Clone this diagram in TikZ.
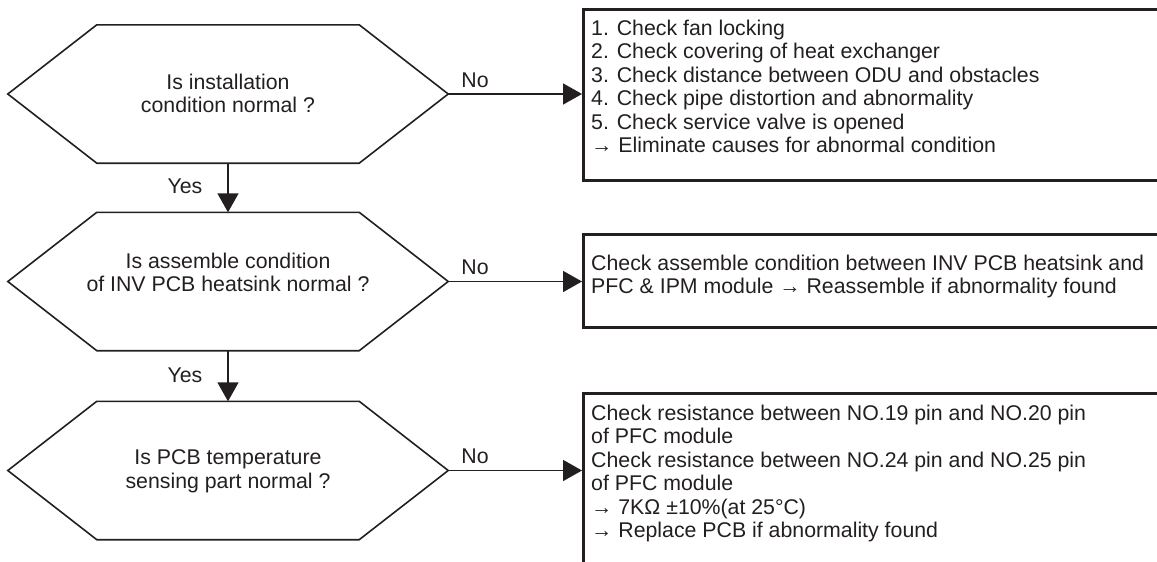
\documentclass[tikz,border=0pt]{standalone}
\usepackage{fontspec}
\setmainfont{Liberation Sans}
\usetikzlibrary{arrows.meta,calc}
\definecolor{ink}{HTML}{231F20}
\begin{document}
\begin{tikzpicture}[x=1pt,y=-1pt,
  hexa/.style={draw=none, minimum width=440pt, minimum height=138pt, inner sep=0pt},
  hexline/.style={draw=ink, line width=1.6pt, line join=miter},
  boxnode/.style={draw=ink, line width=2.6pt, anchor=north west, minimum width=620pt, inner sep=0pt},
  txt/.style={inner sep=0pt, text=ink, font=\fontsize{21.3}{23.5}\selectfont},
  boxtxt/.style={txt, align=left, anchor=north west},
  qtxt/.style={txt, align=center, anchor=north},
  arr/.style={draw=ink, line width=1.6pt, -{Triangle[length=19pt,width=21pt]}},
]
\useasboundingbox (0,0) rectangle (1157,562);
\clip (0,0) rectangle (1157,562);

% decision hexagons
\node[hexa] (h1) at (228,94) {};
\node[hexa] (h2) at (228,281.5) {};
\node[hexa] (h3) at (228,470.5) {};
\foreach \h in {h1,h2,h3}{
  \draw[hexline] (\h.west) -- ([xshift=89pt]\h.north west) -- ([xshift=-89pt]\h.north east)
    -- (\h.east) -- ([xshift=-89pt]\h.south east) -- ([xshift=89pt]\h.south west) -- cycle;
}
\node[qtxt] (q1) at (228,73.5) {Is installation\\condition normal ?};
\node[qtxt] (q2) at (228,252.5) {Is assemble condition\\of INV PCB heatsink normal ?};
\node[qtxt] (q3) at (228,449.5) {Is PCB temperature\\sensing part normal ?};

% action boxes
\node[boxnode, minimum height=171pt] (b1) at (582,8) {};
\node[boxnode, minimum height=93pt] (b2) at (582,233) {};
\node[boxnode, minimum height=200pt] (b3) at (582,392) {};

\node[boxtxt] (t1) at (591,19.5) {1. Check fan locking\\2. Check covering of heat exchanger\\3. Check distance between ODU and obstacles\\4. Check pipe distortion and abnormality\\5. Check service valve is opened\\→ Eliminate causes for abnormal condition};
\node[boxtxt] (t2) at (591,254.5) {Check assemble condition between INV PCB heatsink and\\PFC \& IPM module → Reassemble if abnormality found};
\node[boxtxt] (t3) at (591,404.5) {Check resistance between NO.19 pin and NO.20 pin\\of PFC module\\Check resistance between NO.24 pin and NO.25 pin\\of PFC module\\→ 7KΩ ±10\%(at 25°C)\\→ Replace PCB if abnormality found};

% connectors
\draw[arr] (h1.east) -- (h1.east -| b1.west);
\draw[arr] (h2.east) -- (h2.east -| b2.west);
\draw[arr] (h3.east) -- (h3.east -| b3.west);
\draw[arr] (h1.south) -- (h2.north);
\draw[arr] (h2.south) -- (h3.north);

% labels
\node[txt, anchor=base] (no1) at (475,87) {No};
\node[txt, anchor=base] (no2) at (475,274.5) {No};
\node[txt, anchor=base] (no3) at (475,463.5) {No};
\node[txt, anchor=base] (yes1) at (185,193) {Yes};
\node[txt, anchor=base] (yes2) at (185,382) {Yes};
\end{tikzpicture}
\end{document}
